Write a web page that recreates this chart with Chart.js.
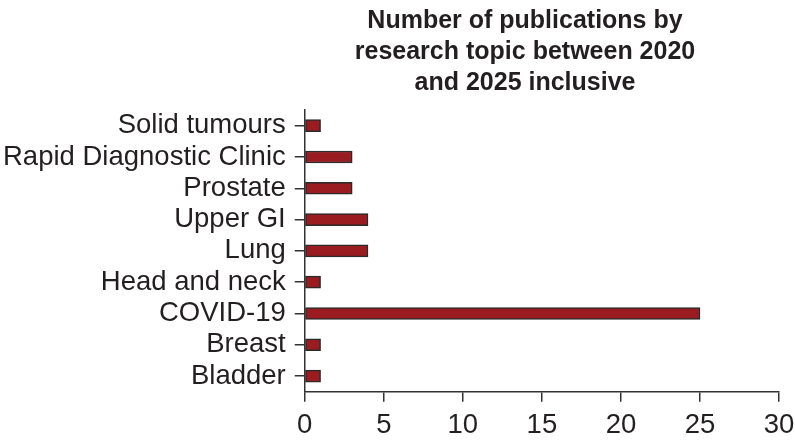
<!DOCTYPE html>
<html>
<head>
<meta charset="utf-8">
<script src="https://cdn.jsdelivr.net/npm/chart.js@4/dist/chart.umd.min.js"></script>
<style>
  html, body { margin: 0; padding: 0; background: #fff; }
  #wrap { width: 795px; height: 441px; }
</style>
</head>
<body>
<div id="wrap"><canvas id="pubChart" width="795" height="441"></canvas></div>
<script>
const topics = ['Solid tumours', 'Rapid Diagnostic Clinic', 'Prostate', 'Upper GI', 'Lung', 'Head and neck', 'COVID-19', 'Breast', 'Bladder'];
const publications = [1, 3, 3, 4, 4, 1, 25, 1, 1];
const titleLines = ['Number of publications by', 'research topic between 2020', 'and 2025 inclusive'];

// title drawn by hand so it can sit off-centre like the original
const titlePlugin = {
  id: 'manualTitle',
  afterDraw(chart) {
    const ctx = chart.ctx;
    ctx.save();
    ctx.font = 'bold 25px "Liberation Sans", Arial, sans-serif';
    ctx.fillStyle = '#231f20';
    ctx.textAlign = 'center';
    ctx.textBaseline = 'middle';
    titleLines.forEach((line, i) => ctx.fillText(line, 525, 21 + i * 31));
    ctx.restore();
  }
};

const axisFont = { family: '"Liberation Sans", Arial, sans-serif', size: 27.5, lineHeight: 1.1 };

// let the tick labels overflow the plot edges instead of shrinking it
const noEdgePadding = (scale) => {
  scale.paddingLeft = 0;
  scale.paddingRight = 0;
  scale.paddingTop = 0;
  scale.paddingBottom = 0;
};

new Chart(document.getElementById('pubChart').getContext('2d'), {
  type: 'bar',
  data: {
    labels: topics,
    datasets: [{
      data: publications,
      backgroundColor: '#9b1c20',
      borderColor: '#2a2a2a',
      borderWidth: 1.5,
      borderSkipped: false,
      barThickness: 12
    }]
  },
  options: {
    indexAxis: 'y',
    responsive: false,
    animation: false,
    layout: { padding: { top: 110, right: 16, bottom: -9, left: -6 } },
    plugins: {
      legend: { display: false },
      tooltip: { enabled: false }
    },
    scales: {
      x: {
        min: 0,
        max: 30,
        afterFit: noEdgePadding,
        ticks: { stepSize: 5, color: '#231f20', font: axisFont, padding: 9, maxRotation: 0 },
        grid: { drawOnChartArea: false, drawTicks: true, tickLength: 10, color: '#333', lineWidth: 1.5 },
        border: { display: true, color: '#333', width: 1.5 }
      },
      y: {
        afterFit: noEdgePadding,
        ticks: { color: '#231f20', font: axisFont, padding: 9, autoSkip: false },
        grid: { drawOnChartArea: false, drawTicks: true, tickLength: 10, color: '#333', lineWidth: 1.5, offset: false },
        border: { display: true, color: '#333', width: 1.5 }
      }
    }
  },
  plugins: [titlePlugin]
});
</script>
</body>
</html>
